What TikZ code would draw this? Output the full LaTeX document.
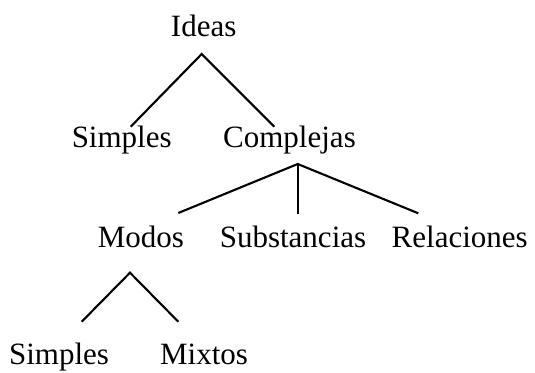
\documentclass[tikz,border=0pt]{standalone}
\usepackage{fontspec}
\setmainfont{Liberation Serif}
\usepackage{tikz}

\begin{document}
\begin{tikzpicture}[x=1pt, y=-1pt, line width=2.1pt,
  word/.style={inner sep=0pt, anchor=base, font=\fontsize{31}{36}\selectfont}]
\useasboundingbox (0,0) rectangle (535,372);

\node[word] (ideas) at (203.7,36.7) {Ideas};
\node[word] (simp) at (121.7,147.7) {Simples};
\node[word] (comp) at (289.5,147.7) {Complejas};
\node[word] (modos) at (141,247.3) {Modos};
\node[word] (subs) at (293,247.3) {Substancias};
\node[word] (rel) at (459.7,247.3) {Relaciones};
\node[word] (simp2) at (59,364) {Simples};
\node[word] (mix) at (204,364) {Mixtos};

\coordinate (ideasJ) at (201.7,54);
\coordinate (simpT) at (130.7,126.7);
\coordinate (compT) at (274.3,126.7);
\coordinate (compJ) at (297.7,164);
\coordinate (modosT) at (178.3,213);
\coordinate (subsT) at (297.7,214);
\coordinate (relT) at (418.3,213.3);
\coordinate (modosJ) at (130,272.7);
\coordinate (simp2T) at (81.7,321.7);
\coordinate (mixT) at (178.3,321.7);

\draw (simpT) -- (ideasJ) -- (compT);
\draw (modosT) -- (compJ) -- (relT);
\draw (compJ) -- (subsT);
\draw (simp2T) -- (modosJ) -- (mixT);
\end{tikzpicture}
\end{document}
